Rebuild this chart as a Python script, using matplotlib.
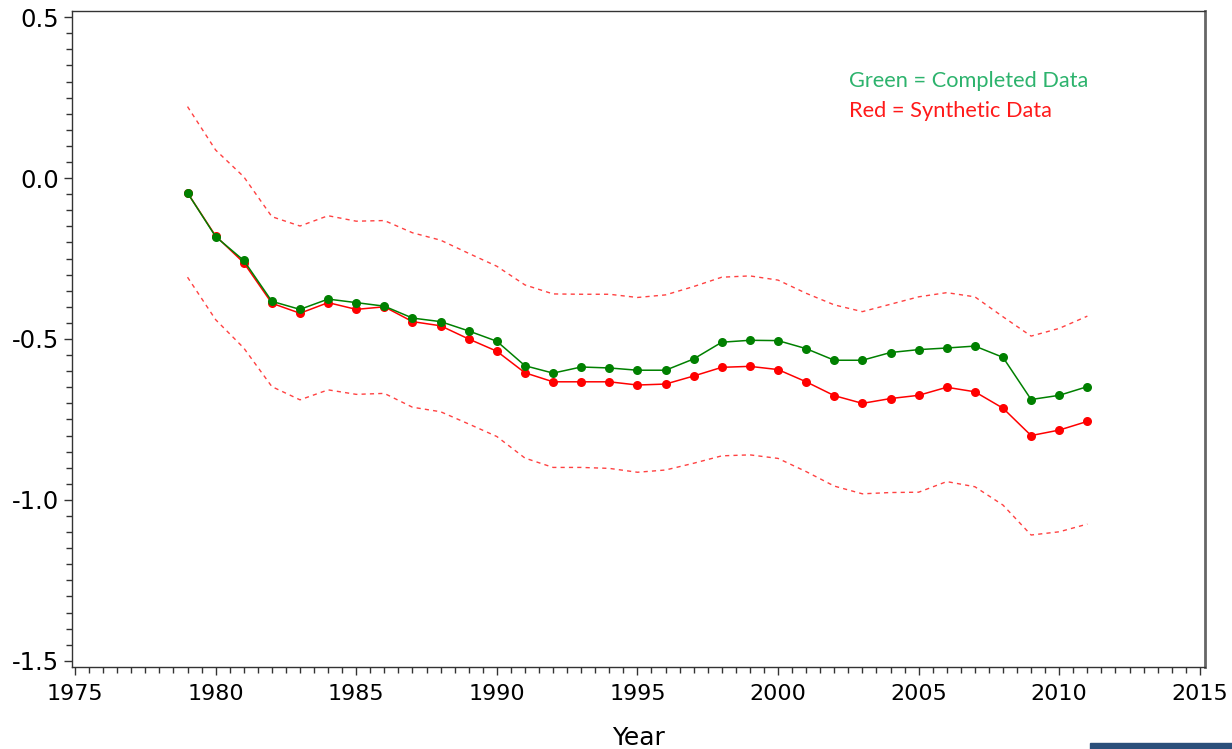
import numpy as np
import matplotlib.pyplot as plt
from matplotlib.ticker import MultipleLocator
from matplotlib.patches import Rectangle

# Years 1979-2011
years = list(range(1979, 2012))

# Completed data (green)
completed = [-0.046, -0.182, -0.256, -0.383, -0.408, -0.376, -0.387, -0.398, -0.435, -0.446,
             -0.475, -0.507, -0.583, -0.606, -0.587, -0.590, -0.597, -0.597, -0.562, -0.510,
             -0.504, -0.505, -0.530, -0.566, -0.566, -0.542, -0.533, -0.528, -0.522, -0.557,
             -0.688, -0.675, -0.648]

# Synthetic data (red)
synthetic = [-0.046, -0.180, -0.263, -0.389, -0.420, -0.387, -0.408, -0.400, -0.446, -0.459,
             -0.500, -0.538, -0.605, -0.633, -0.633, -0.633, -0.643, -0.640, -0.615, -0.588,
             -0.585, -0.595, -0.633, -0.676, -0.700, -0.685, -0.675, -0.650, -0.664, -0.715,
             -0.800, -0.783, -0.756]

# Synthetic confidence band
upper = [0.222, 0.087, 0.004, -0.120, -0.149, -0.117, -0.134, -0.132, -0.170, -0.193,
         -0.234, -0.274, -0.332, -0.360, -0.361, -0.361, -0.371, -0.363, -0.337, -0.308,
         -0.304, -0.317, -0.358, -0.394, -0.415, -0.392, -0.369, -0.356, -0.369, -0.431,
         -0.491, -0.467, -0.429]
lower = [-0.308, -0.440, -0.528, -0.648, -0.689, -0.658, -0.672, -0.669, -0.712, -0.726,
         -0.764, -0.803, -0.870, -0.899, -0.899, -0.902, -0.914, -0.907, -0.886, -0.863,
         -0.860, -0.871, -0.912, -0.957, -0.981, -0.977, -0.976, -0.943, -0.959, -1.016,
         -1.109, -1.099, -1.075]

fig = plt.figure(figsize=(12.32, 7.49), dpi=100)
ax = fig.add_axes([0.0584, 0.1095, 0.9196, 0.8758])

# confidence bounds
ax.plot(years, upper, color='#ff2020', lw=1, ls=(0, (3, 3)), alpha=0.85)
ax.plot(years, lower, color='#ff2020', lw=1, ls=(0, (3, 3)), alpha=0.85)

# series
ax.plot(years, synthetic, color='#ff0000', lw=1.1, marker='o', markersize=6.5,
        markeredgewidth=0)
ax.plot(years, completed, color='#008000', lw=1.1, marker='o', markersize=6.5,
        markeredgewidth=0)

ax.set_xlim(1974.89, 2015.18)
ax.set_ylim(-1.519, 0.519)

ax.xaxis.set_major_locator(MultipleLocator(5))
ax.xaxis.set_minor_locator(MultipleLocator(0.5))
ax.yaxis.set_major_locator(MultipleLocator(0.5))
ax.yaxis.set_minor_locator(MultipleLocator(0.05))
ax.yaxis.set_major_formatter(plt.FuncFormatter(lambda v, p: f'{v:.1f}'))

ax.tick_params(axis='x', which='major', labelsize=16, length=6, width=1,
               color='#333333', pad=6)
ax.tick_params(axis='y', which='major', labelsize=17.5, length=6, width=1,
               color='#333333', pad=3)
ax.tick_params(axis='both', which='minor', length=4, width=1, color='#333333')

for s in ['left', 'bottom', 'top']:
    ax.spines[s].set_color('#333333')
    ax.spines[s].set_linewidth(1)
ax.spines['right'].set_color('#666666')
ax.spines['right'].set_linewidth(2)

ax.set_xlabel('Year', fontsize=18, labelpad=16)

# annotation text
ax.text(0.686, 0.893, 'Green = Completed Data', transform=ax.transAxes,
        color='#2db36d', fontsize=15.7, family='Lato', va='center')
ax.text(0.686, 0.848, 'Red = Synthetic Data', transform=ax.transAxes,
        color='#ff1a1a', fontsize=15.7, family='Lato', va='center')

# screenshot edge bar
fig.patches.append(Rectangle((1090 / 1232, 0), 1 - 1090 / 1232, 6 / 749,
                             transform=fig.transFigure, color='#2b4f7a', zorder=0))

fig.savefig('out.png', dpi=100)
